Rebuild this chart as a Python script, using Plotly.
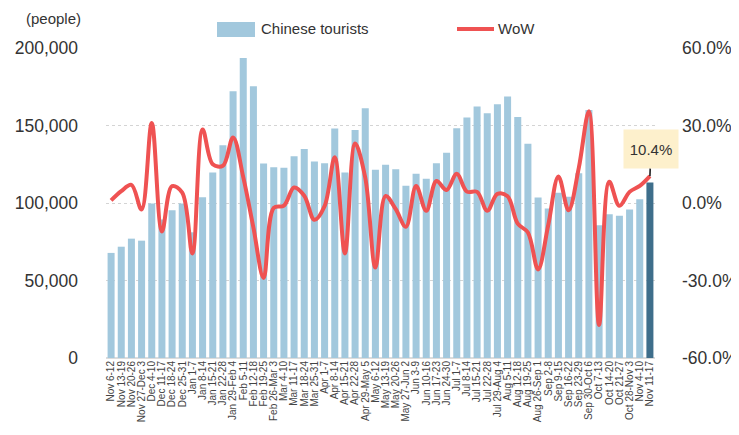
import plotly.graph_objects as go

weeks = ["Nov 6-12", "Nov 13-19", "Nov 20-26", "Nov 27-Dec 3", "Dec 4-10", "Dec 11-17",
         "Dec 18-24", "Dec 25-31", "Jan 1-7", "Jan 8-14", "Jan 15-21", "Jan 22-28",
         "Jan 29-Feb 4", "Feb 5-11", "Feb 12-18", "Feb 19-25", "Feb 26-Mar 3", "Mar 4-10",
         "Mar 11-17", "Mar 18-24", "Mar 25-31", "Apr 1-7", "Apr 8-14", "Apr 15-21",
         "Apr 22-28", "Apr 29-May 5", "May 6-12", "May 13-19", "May 20-26", "May 27-Jun 2",
         "Jun 3-9", "Jun 10-16", "Jun 17-23", "Jun 24-30", "Jul 1-7", "Jul 8-14",
         "Jul 15-21", "Jul 22-28", "Jul 29-Aug 4", "Aug 5-11", "Aug 12-18", "Aug 19-25",
         "Aug 26-Sep 1", "Sep 2-8", "Sep 9-15", "Sep 16-22", "Sep 23-29", "Sep 30-Oct 6",
         "Oct 7-13", "Oct 14-20", "Oct 21-27", "Oct 28-Nov 3", "Nov 4-10", "Nov 11-17"]

tourists = [67800, 71800, 77000, 75700, 99600, 89300, 95300, 99600, 81100, 103700,
            119700, 137200, 172100, 193600, 175300, 125500, 123100, 122700, 130200, 134800,
            126800, 125700, 148000, 119700, 147100, 161100, 121400, 124700, 121800, 111100,
            118800, 115600, 125700, 132400, 148200, 155100, 162200, 157900, 163700, 168700,
            155500, 138300, 103500, 96400, 106600, 104000, 119200, 160000, 85600, 92700,
            91700, 95800, 102400, 113200]

wow = [1.0, 4.6, 7.0, -2.5, 31.0, -11.0, 6.5, 4.0, -19.5, 28.5,
       15.0, 14.4, 25.4, 10.0, -9.5, -29.0, -1.9, -1.0, 6.0, 2.8,
       -6.5, -1.2, 17.7, -19.5, 23.0, 9.8, -25.0, 2.7, -2.4, -9.2,
       6.6, -3.0, 8.5, 5.0, 11.3, 4.4, 4.3, -3.0, 3.5, 2.6,
       -8.0, -11.4, -25.7, -8.5, 10.3, -2.8, 13.5, 35.5, -47.2, 8.2,
       -1.1, 4.3, 6.6, 10.4]

left_ticks = [0, 50000, 100000, 150000, 200000]
left_labels = ["0", "50,000", "100,000", "150,000", "200,000"]
right_ticks = [-60, -30, 0, 30, 60]
right_labels = ["-60.0%", "-30.0%", "0.0%", "30.0%", "60.0%"]

BAR = "#a2c8dd"
BAR_LAST = "#3e6e8b"
RED = "#ef5252"
TXT = "#333333"
FONT = "Liberation Sans, Arial, sans-serif"

bar_colors = [BAR] * (len(weeks) - 1) + [BAR_LAST]

fig = go.Figure()
fig.add_trace(go.Bar(x=weeks, y=tourists, name="Chinese tourists",
                     marker=dict(color=bar_colors, line=dict(width=0)),
                     showlegend=False, yaxis="y"))
fig.add_trace(go.Scatter(x=weeks, y=wow, name="WoW", mode="lines",
                         line=dict(color=RED, width=4, shape="spline", smoothing=1.0),
                         showlegend=False, yaxis="y2", cliponaxis=False))

# the page body has an 8px margin, so the figure is sized to fit inside the window
fig.update_layout(
    width=731, height=427,
    margin=dict(l=98, r=84, t=40, b=77),
    paper_bgcolor="white", plot_bgcolor="white",
    font=dict(family=FONT, color=TXT),
    bargap=0.31,
    xaxis=dict(type="category", tickangle=-90, tickfont=dict(size=10, color="#444444"),
               tickmode="array", tickvals=weeks, ticktext=weeks,
               showgrid=False, ticks="", showline=False, zeroline=False,
               range=[-0.5, len(weeks) - 0.5], automargin=False),
    yaxis=dict(range=[0, 200000], tickvals=left_ticks, ticktext=left_labels,
               tickfont=dict(size=17.5, color=TXT), ticks="",
               showgrid=True, gridcolor="#d4d4d4", griddash="dot", gridwidth=1,
               zeroline=True, zerolinecolor="#dcdcdc", zerolinewidth=2,
               ticklabelstandoff=27, showline=False, automargin=False),
    yaxis2=dict(range=[-60, 60], tickvals=right_ticks, ticktext=right_labels,
                tickfont=dict(size=17.5, color=TXT), ticks="", overlaying="y",
                side="right", showgrid=False, zeroline=False, showline=False,
                ticklabelstandoff=26, automargin=False),
)

# "(people)" unit label
fig.add_annotation(text="(people)", xref="paper", yref="paper", x=(53 - 106) / 549,
                   y=1 + (48 - 18) / 310, showarrow=False, font=dict(size=15, color=TXT),
                   xanchor="center", yanchor="middle")

# custom legend
fig.add_shape(type="rect", xref="paper", yref="paper",
              x0=(217 - 106) / 549, x1=(255 - 106) / 549,
              y0=1 + (48 - 37) / 310, y1=1 + (48 - 22) / 310,
              fillcolor=BAR, line=dict(width=0))
fig.add_annotation(text="Chinese tourists", xref="paper", yref="paper",
                   x=(259 - 106) / 549, y=1 + (48 - 28) / 310, showarrow=False,
                   xanchor="left", yanchor="middle", font=dict(size=15, color=TXT))
fig.add_shape(type="line", xref="paper", yref="paper",
              x0=(457 - 106) / 549, x1=(494 - 106) / 549,
              y0=1 + (48 - 29) / 310, y1=1 + (48 - 29) / 310,
              line=dict(color=RED, width=4))
fig.add_annotation(text="WoW", xref="paper", yref="paper",
                   x=(496 - 106) / 549, y=1 + (48 - 28) / 310, showarrow=False,
                   xanchor="left", yanchor="middle", font=dict(size=15, color=TXT))

# callout for the last WoW value
fig.add_annotation(text=f"{wow[-1]:.1f}%", x=weeks[-1], y=wow[-1], xref="x", yref="y2",
                   showarrow=True, arrowhead=0, arrowwidth=1.5, arrowcolor="#111111",
                   ax=1, ay=-27, bgcolor="#fdf0cc", width=52, height=36,
                   font=dict(size=15, color=TXT))

fig.write_html("out.html")
